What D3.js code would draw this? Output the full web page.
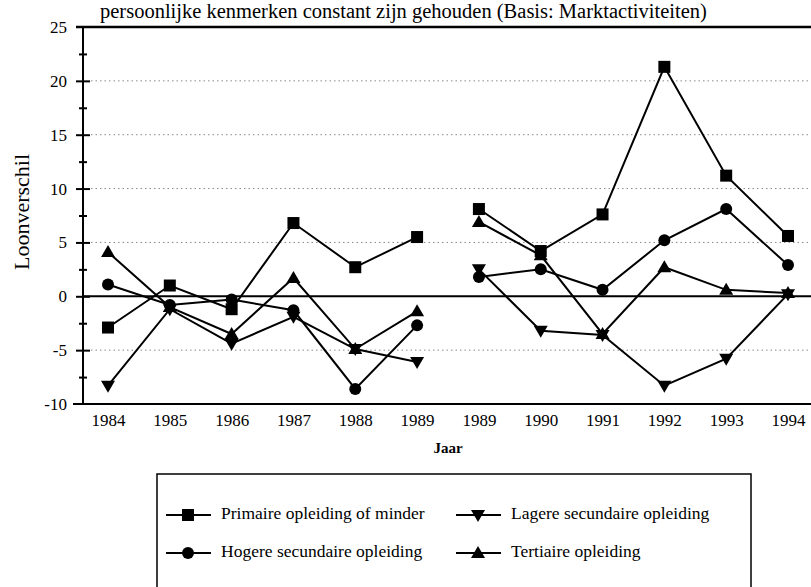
<!DOCTYPE html>
<html>
<head>
<meta charset="utf-8">
<script src="https://cdn.jsdelivr.net/npm/d3@7"></script>
<style>
  body { margin: 0; background: #fff; }
  svg { display: block; font-family: "Liberation Serif", "Times New Roman", serif; }
  .axis path, .axis line { stroke: #000; stroke-width: 2; }
  .grid-line { stroke: #888; stroke-width: 1; stroke-dasharray: 1.5 3; }
  .series-line { fill: none; stroke: #000; stroke-width: 2; }
</style>
</head>
<body>
<script>
// x categories: two runs of years, the 1989 label occurs twice
var yearKeys = ["1984", "1985", "1986", "1987", "1988", "1989a",
                "1989b", "1990", "1991", "1992", "1993", "1994"];
var yearLabels = ["1984", "1985", "1986", "1987", "1988", "1989",
                  "1989", "1990", "1991", "1992", "1993", "1994"];
var yTicks = [-10, -5, 0, 5, 10, 15, 20, 25];
var yMinorTicks = [-7.5, -2.5, 2.5, 7.5, 12.5, 17.5, 22.5];
var gridValues = [-5, 5, 10, 15, 20];

// series values
var primaire = [-2.9, 1.0, -1.2, 6.8, 2.7, 5.5, 8.1, 4.2, 7.6, 21.3, 11.2, 5.6];
var lagere   = [-8.3, -1.2, -4.4, -1.9, -4.9, -6.1, 2.5, -3.2, -3.6, -8.3, -5.8, 0.2];
var hogere   = [1.1, -0.8, -0.3, -1.3, -8.6, -2.7, 1.8, 2.5, 0.6, 5.2, 8.1, 2.9];
var tertiair = [4.1, -1.0, -3.5, 1.7, -4.9, -1.4, 6.9, 3.8, -3.5, 2.7, 0.6, 0.3];

var series = [
  { name: "Primaire opleiding of minder", values: primaire, symbol: "square" },
  { name: "Lagere secundaire opleiding", values: lagere, symbol: "down" },
  { name: "Hogere secundaire opleiding", values: hogere, symbol: "circle" },
  { name: "Tertiaire opleiding", values: tertiair, symbol: "up" }
];

var serif = "'Liberation Serif', 'Times New Roman', serif";
var W = 811, H = 587;
var plotLeft = 83, plotRight = 811, plotTop = 27, plotBottom = 404;

var svg = d3.select("body").append("svg")
  .attr("width", W).attr("height", H);

var x = d3.scalePoint().domain(yearKeys).range([108, 788]);
var y = d3.scaleLinear().domain([-10, 25]).range([plotBottom, plotTop]);

// title (cut off at the top in the original)
svg.append("text")
  .attr("x", 100).attr("y", 18)
  .style("font-size", "20.5px")
  .text("persoonlijke kenmerken constant zijn gehouden (Basis: Marktactiviteiten)");

// dotted grid
svg.append("g").selectAll("line")
  .data(gridValues)
  .enter().append("line")
  .attr("class", "grid-line")
  .attr("x1", plotLeft + 8).attr("x2", plotRight)
  .attr("y1", function (d) { return y(d); })
  .attr("y2", function (d) { return y(d); });

// zero line, top border, x axis line
svg.append("line")
  .attr("x1", plotLeft).attr("x2", plotRight)
  .attr("y1", y(0)).attr("y2", y(0))
  .attr("stroke", "#000").attr("stroke-width", 2);
svg.append("line")
  .attr("x1", 76).attr("x2", plotRight)
  .attr("y1", y(25)).attr("y2", y(25))
  .attr("stroke", "#000").attr("stroke-width", 2.5);

var xAxis = d3.axisBottom(x).tickSize(0).tickPadding(10)
  .tickFormat(function (d, i) { return yearLabels[i]; });
var xg = svg.append("g")
  .attr("class", "axis")
  .attr("transform", "translate(0," + plotBottom + ")")
  .call(xAxis);
xg.select(".domain").remove();
xg.append("line")
  .attr("x1", 73).attr("x2", plotRight)
  .attr("stroke", "#000").attr("stroke-width", 2.5);

// y axis: major ticks cross the axis, minor ticks are shorter
var yg = svg.append("g")
  .attr("class", "axis")
  .attr("transform", "translate(" + plotLeft + ",0)")
  .call(d3.axisLeft(y).tickValues(yTicks).tickSize(7).tickPadding(9).tickFormat(String));
yg.select(".domain").attr("d", "M0," + plotTop + "V" + plotBottom);
yg.selectAll(".tick line").attr("x2", -7).attr("x1", 7);
yg.selectAll(".tick").filter(function (d) { return d === -10 || d === 25; }).select("line").remove();

[xg, yg].forEach(function (g) {
  g.attr("font-family", serif).attr("font-size", 17);
  g.selectAll("text").style("font-family", serif).style("font-size", "17px").attr("fill", "#000");
});

var ym = svg.append("g")
  .attr("class", "axis")
  .attr("transform", "translate(" + plotLeft + ",0)")
  .call(d3.axisLeft(y).tickValues(yMinorTicks).tickSize(4).tickFormat(""));
ym.select(".domain").remove();
ym.selectAll(".tick line").attr("x1", 4).attr("x2", -4);

// axis titles
svg.append("text")
  .attr("transform", "translate(29,212) rotate(-90)")
  .attr("text-anchor", "middle")
  .style("font-size", "22px")
  .text("Loonverschil");
svg.append("text")
  .attr("x", 448).attr("y", 453)
  .attr("text-anchor", "middle")
  .style("font-size", "15px").style("font-weight", "bold")
  .text("Jaar");

// marker drawing
function drawSymbol(sel, symbol) {
  if (symbol === "square") {
    sel.append("rect").attr("x", -6).attr("y", -6).attr("width", 12).attr("height", 12);
  } else if (symbol === "circle") {
    sel.append("circle").attr("r", 6);
  } else if (symbol === "up") {
    sel.append("path").attr("d", "M0,-7L7,5L-7,5Z");
  } else {
    sel.append("path").attr("d", "M0,7L7,-5L-7,-5Z");
  }
}

var line = d3.line()
  .x(function (d) { return x(d.key); })
  .y(function (d) { return y(d.value); });

series.forEach(function (s) {
  var pts = s.values.map(function (v, i) { return { key: yearKeys[i], value: v }; });
  [pts.slice(0, 6), pts.slice(6)].forEach(function (seg) {
    svg.append("path").attr("class", "series-line").attr("d", line(seg));
  });
});

series.forEach(function (s) {
  s.values.forEach(function (v, i) {
    var g = svg.append("g")
      .attr("transform", "translate(" + x(yearKeys[i]) + "," + y(v) + ")")
      .attr("fill", "#000");
    drawSymbol(g, s.symbol);
  });
});

// legend
var legend = svg.append("g");
legend.append("rect")
  .attr("x", 157).attr("y", 474).attr("width", 594).attr("height", 140)
  .attr("fill", "none").attr("stroke", "#000").attr("stroke-width", 1.5);

var legendPos = [
  { s: series[0], lx: 166, ty: 513 },
  { s: series[1], lx: 456, ty: 513 },
  { s: series[2], lx: 166, ty: 551 },
  { s: series[3], lx: 456, ty: 551 }
];
legendPos.forEach(function (p) {
  legend.append("line")
    .attr("x1", p.lx).attr("x2", p.lx + 45)
    .attr("y1", p.ty + 2).attr("y2", p.ty + 2)
    .attr("stroke", "#000").attr("stroke-width", 2);
  var g = legend.append("g")
    .attr("transform", "translate(" + (p.lx + 22) + "," + (p.ty + 2) + ")")
    .attr("fill", "#000");
  drawSymbol(g, p.s.symbol);
  legend.append("text")
    .attr("x", p.lx + 55).attr("y", p.ty)
    .attr("dy", "0.32em")
    .style("font-size", "17.5px")
    .text(p.s.name);
});
</script>
</body>
</html>
